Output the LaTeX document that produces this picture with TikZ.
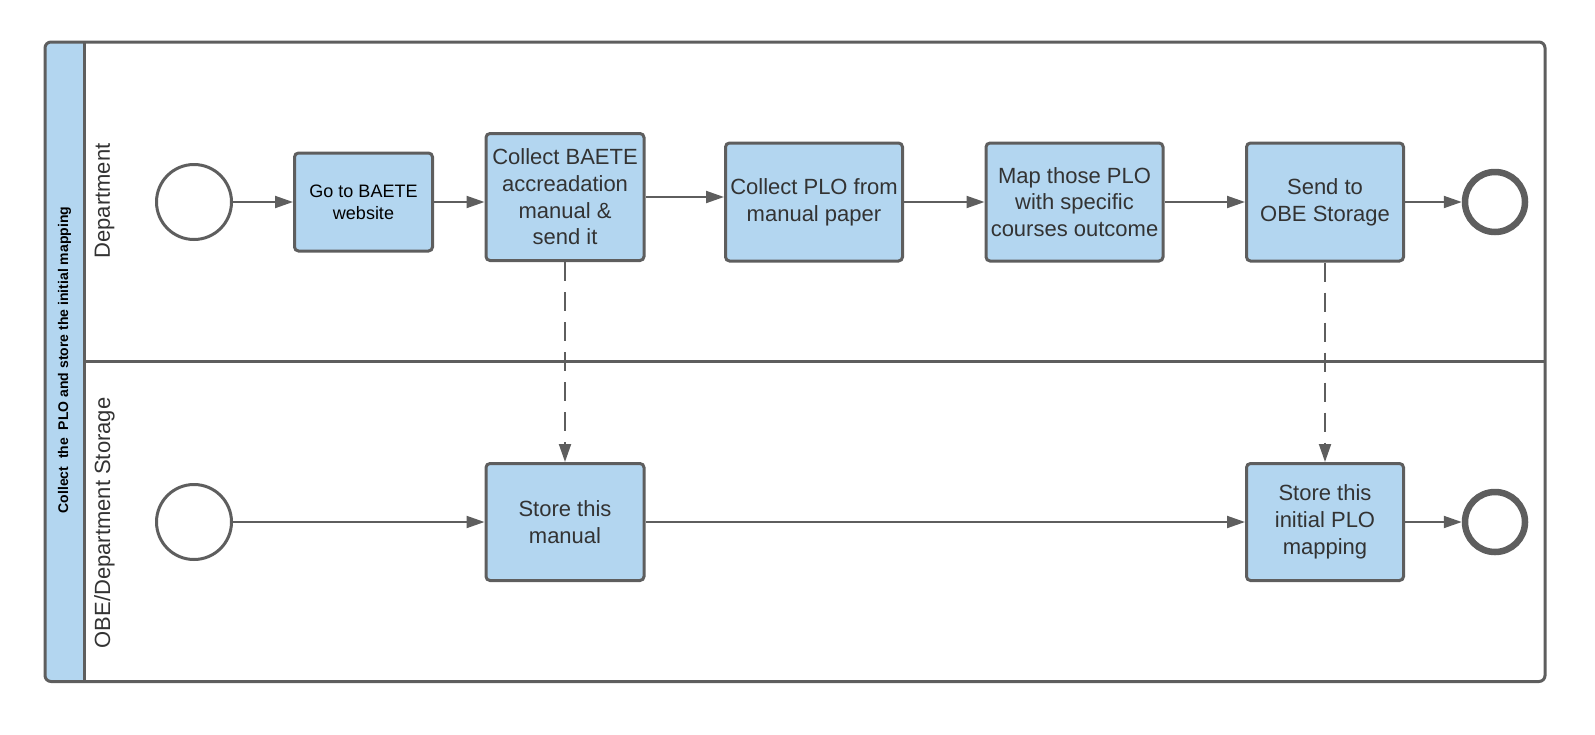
\documentclass[tikz,border=0pt]{standalone}
\usepackage{fontspec}
\setmainfont{Liberation Sans}
\usetikzlibrary{arrows.meta}
\definecolor{lanegray}{RGB}{94,94,94}
\definecolor{boxblue}{RGB}{179,214,240}
\definecolor{txt}{RGB}{51,51,51}
\tikzset{
  task/.style={draw=lanegray, line width=3pt, fill=boxblue, rounded corners=4pt,
    align=center, text=txt, font=\fontsize{22}{26.7}\selectfont, inner sep=0pt},
  startev/.style={circle, draw=lanegray, line width=3pt, minimum size=75pt, inner sep=0pt, fill=white},
  endev/.style={circle, draw=lanegray, line width=6.5pt, minimum size=60pt, inner sep=0pt, fill=white},
  flow/.style={draw=lanegray, line width=2pt, -{Triangle[length=18pt,width=12pt]}},
  assoc/.style={flow, dash pattern=on 19pt off 11pt},
  lanelabel/.style={rotate=90, text=txt, font=\fontsize{22}{26}\selectfont, inner sep=0pt},
}
\begin{document}
\begin{tikzpicture}[x=1pt, y=-1pt]
\useasboundingbox (0,0) rectangle (1595,734);
% pool
\fill[boxblue, rounded corners=6pt] (84.5,42) -- (45,42) -- (45,681.5) -- (84.5,681.5) [sharp corners] -- cycle;
\draw[lanegray, line width=3pt, rounded corners=6pt] (45,42) rectangle (1545,681.5);
\draw[lanegray, line width=3pt] (84.5,42) -- (84.5,681.5);
\draw[lanegray, line width=3pt] (84.5,361) -- (1545,361);
\node[rotate=90, text=black, font=\bfseries\fontsize{14}{16}\selectfont, inner sep=0pt] (title) at (64.5,360) {Collect\ \ the\ \ PLO and store the initial mapping};
\node[lanelabel] (lane1) at (104.5,201) {Department};
\node[lanelabel] (lane2) at (104.5,523) {OBE/Department Storage};
% lane 1
\node[startev] (s1) at (194,202) {};
\node[task, minimum width=138pt, minimum height=98pt, text=black, font=\fontsize{18}{22}\selectfont] (b1) at (363.5,202) {Go to BAETE\\website};
\node[task, minimum width=158pt, minimum height=127pt] (b2) at (565,197) {Collect BAETE\\accreadation\\manual \&\\send it};
\node[task, minimum width=177pt, minimum height=118pt] (b3) at (814,202) {Collect PLO from\\manual paper};
\node[task, minimum width=177pt, minimum height=118pt] (b4) at (1074.5,202) {Map those PLO\\with specific\\courses outcome};
\node[task, minimum width=157pt, minimum height=118pt] (b5) at (1325,202) {Send to\\OBE Storage};
\node[endev] (e1) at (1495,202) {};
% lane 2
\node[startev] (s2) at (194,522) {};
\node[task, minimum width=158pt, minimum height=117pt] (b6) at (565,522) {Store this\\manual};
\node[task, minimum width=157pt, minimum height=117pt] (b7) at (1325,522) {Store this\\initial PLO\\mapping};
\node[endev] (e2) at (1495,522) {};
% flows
\draw[flow] (s1) -- (b1);
\draw[flow] (b1.east) -- (b1.east -| b2.west);
\draw[flow] (b2.east) -- (b2.east -| b3.west);
\draw[flow] (b3) -- (b4);
\draw[flow] (b4) -- (b5);
\draw[flow] (b5) -- (e1);
\draw[flow] (s2) -- (b6);
\draw[flow] (b6) -- (b7);
\draw[flow] (b7) -- (e2);
\draw[assoc] (b2.south) -- (b6.north);
\draw[assoc] (b5.south) -- (b7.north);
\end{tikzpicture}
\end{document}
